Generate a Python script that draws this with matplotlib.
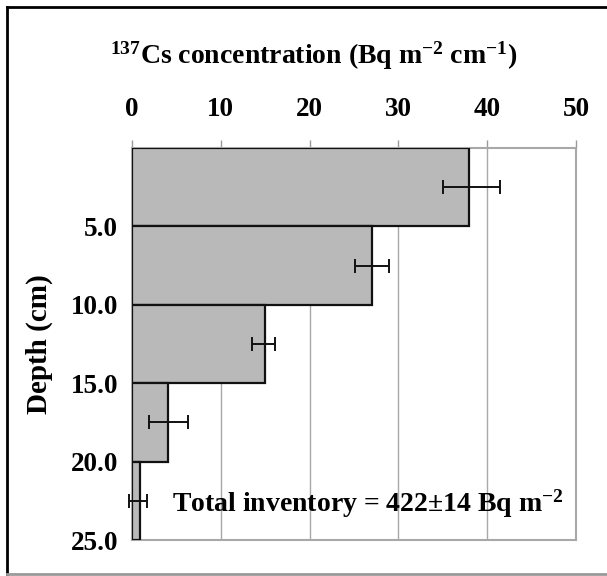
import matplotlib
matplotlib.use("Agg")
import matplotlib.pyplot as plt
from matplotlib.lines import Line2D
import numpy as np

plt.rcParams['font.family'] = ['Liberation Serif', 'DejaVu Serif']
plt.rcParams['font.weight'] = 'bold'
plt.rcParams['mathtext.fontset'] = 'custom'
plt.rcParams['mathtext.rm'] = 'Liberation Serif:bold'
plt.rcParams['mathtext.default'] = 'rm'

# Data
depth_top = [0, 5, 10, 15, 20]
depth_bottom = [5, 10, 15, 20, 25]
concentration = [38.0, 27.0, 15.0, 4.1, 0.9]
err_center = [38.2, 27.0, 14.8, 4.1, 0.7]
err_halfwidth = [3.2, 1.9, 1.3, 2.2, 1.0]
x_ticks = [0, 10, 20, 30, 40, 50]
y_ticks = [5, 10, 15, 20, 25]
y_tick_labels = ['5.0', '10.0', '15.0', '20.0', '25.0']
annotation = 'Total inventory = 422\u00b114 Bq m$^{-2}$'

W, H = 607, 576
fig = plt.figure(figsize=(W / 100, H / 100), dpi=100)
ax = fig.add_axes([132 / W, 1 - 540 / H, (576 - 132) / W, (540 - 148) / H])

heights = np.array(depth_bottom) - np.array(depth_top)
centers = np.array(depth_top) + heights / 2
ax.barh(centers, concentration, height=heights, color='#b9b9b9',
        edgecolor='#111111', linewidth=1.6, zorder=3)
eb = ax.errorbar(err_center, centers, xerr=err_halfwidth, fmt='none',
                 ecolor='#111111', elinewidth=1.4, capsize=5, capthick=1.4, zorder=4)
for art in eb.lines[1] + eb.lines[2]:
    art.set_clip_on(False)

ax.set_xlim(0, 50)
ax.set_ylim(25, 0)
ax.xaxis.tick_top()
ax.xaxis.set_label_position('top')
ax.set_xticks(x_ticks)
ax.set_xticklabels([str(t) for t in x_ticks])
ax.set_yticks(y_ticks)
ax.set_yticklabels(y_tick_labels)
ax.tick_params(axis='x', labelsize=19.5, length=6, width=1, color='#999999',
               direction='out', pad=13)
ax.tick_params(axis='y', labelsize=19.5, length=0, pad=10)
for lab in ax.get_xticklabels() + ax.get_yticklabels():
    lab.set_fontweight('bold')

ax.grid(axis='x', color='#a8a8a8', linewidth=1.0, zorder=0)
for s in ax.spines.values():
    s.set_color('#a8a8a8')
    s.set_linewidth(1.5)

ax.set_xlabel(r'$^{137}$Cs concentration (Bq m$^{-2}$ cm$^{-1}$)',
              fontsize=20, fontweight='bold')
ax.xaxis.set_label_coords(0.41, 1.235)
ax.xaxis.label.set_va('center')
ax.set_ylabel('Depth (cm)', fontsize=21, fontweight='bold', labelpad=13)

ax.text(4.5, 22.7, annotation, fontsize=20, fontweight='bold',
        va='center', ha='left', zorder=5)

# Figure border (left/top black, bottom gray)
fig.add_artist(Line2D([7 / W, 7 / W], [1 - 7 / H, 1 - 574 / H],
                      transform=fig.transFigure, color='black', linewidth=2))
fig.add_artist(Line2D([7 / W, 1.0], [1 - 7 / H, 1 - 7 / H],
                      transform=fig.transFigure, color='black', linewidth=2))
fig.add_artist(Line2D([7 / W, 1.0], [1 - 574 / H, 1 - 574 / H],
                      transform=fig.transFigure, color='#999999', linewidth=2))

fig.savefig('out.png', dpi=100)
